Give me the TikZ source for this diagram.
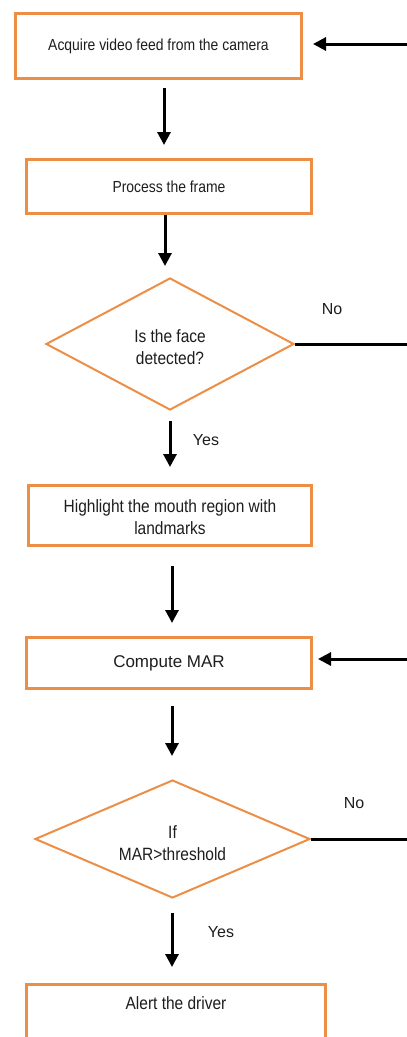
\documentclass[tikz,border=0pt]{standalone}
\usepackage{fontspec}
\usepackage{graphicx}
\setmainfont{Liberation Sans}
\usetikzlibrary{shapes.geometric,arrows.meta,calc}
\definecolor{orng}{RGB}{237,142,70}
\definecolor{txt}{RGB}{30,30,30}
\newcommand\sqtxt[1]{\scalebox{0.87}[1]{\begin{tabular}{@{}c@{}}#1\end{tabular}}}
\newcommand\mvtxt[2]{\raisebox{#1}[\height][\depth]{#2}}
\begin{document}
\begin{tikzpicture}[x=1pt,y=-1pt,
  box/.style={draw=orng,line width=3pt,rectangle,inner sep=0pt,align=center,text=txt,fill=white},
  dia/.style={draw=orng,line width=2pt,diamond,aspect=2,inner sep=0pt,align=center,text=txt},
  arr/.style={line width=3pt,-{Triangle[width=13pt,length=13pt]}},
  ln/.style={line width=3pt},
  lbl/.style={text=txt,inner sep=0pt,font=\fontsize{16}{20}\selectfont},
  f15/.style={font=\fontsize{17.8}{22}\selectfont},
  f14/.style={font=\fontsize{16}{20}\selectfont}]
\useasboundingbox (0,0) rectangle (407,1037);
\clip (0,0) rectangle (407,1037);
\fill[white] (0,0) rectangle (407,1037);

\node[box,f14,minimum width=286pt,minimum height=65pt] (b1) at (158.5,46) {\sqtxt{Acquire video feed from the camera}};
\node[box,f14,minimum width=285pt,minimum height=54pt] (b2) at (169,186.5) {\mvtxt{-2pt}{\sqtxt{Process the frame}}};
\node[dia,f15,minimum width=248pt,minimum height=132pt] (d1) at (170,344) {\mvtxt{-5pt}{\sqtxt{Is the face\\detected?}}};
\node[box,f15,minimum width=283pt,minimum height=60pt] (b3) at (170,515.5) {\mvtxt{-4pt}{\sqtxt{Highlight the mouth region with\\landmarks}}};
\node[box,font=\fontsize{17}{20}\selectfont,minimum width=285pt,minimum height=51pt] (b4) at (169,663) {Compute MAR};
\node[dia,f15,minimum width=275pt,minimum height=118pt] (d2) at (172.5,839) {\mvtxt{-6pt}{\sqtxt{If\\MAR>threshold}}};
\node[box,f15,minimum width=299pt,minimum height=64pt] (b5) at (176,1016.5) {\mvtxt{11pt}{\sqtxt{Alert the driver}}};

\node[lbl] (no1) at (332,309) {No};
\node[lbl] (yes1) at (206,440) {Yes};
\node[lbl] (no2) at (354,803) {No};
\node[lbl] (yes2) at (221,932) {Yes};

\coordinate (in1) at (410,44);
\coordinate (in4) at (410,659);
\coordinate (out1) at (410,344);
\coordinate (out2) at (410,839);

% vertical arrows
\draw[arr,shorten <=8pt,shorten >=13pt] ([xshift=5.5pt]b1.south) -- ([xshift=5.5pt]b1.south |- b2.north);
\draw[arr,shorten <=0pt,shorten >=11pt] ([xshift=-4pt]b2.south) -- ([xshift=-4pt]b2.south |- d1.north);
\draw[arr,shorten <=10pt,shorten >=17pt] (d1.south) -- (d1.south |- b3.north);
\draw[arr,shorten <=19pt,shorten >=13pt] ([xshift=2pt]b3.south) -- ([xshift=2pt]b3.south |- b4.north);
\draw[arr,shorten <=16pt,shorten >=23pt] ([xshift=3pt]b4.south) -- ([xshift=3pt]b4.south |- d2.north);
\draw[arr,shorten <=14pt,shorten >=16pt] ([xshift=-0.5pt]d2.south) -- ([xshift=-0.5pt]d2.south |- b5.north);

% side arrows and lines
\draw[arr,shorten >=10pt] (in1) -- (in1 -| b1.east);
\draw[arr,shorten >=5pt] (in4) -- (in4 -| b4.east);
\draw[ln] (d1.east) -- (out1);
\draw[ln] (d2.east) -- (out2);
\end{tikzpicture}
\end{document}
